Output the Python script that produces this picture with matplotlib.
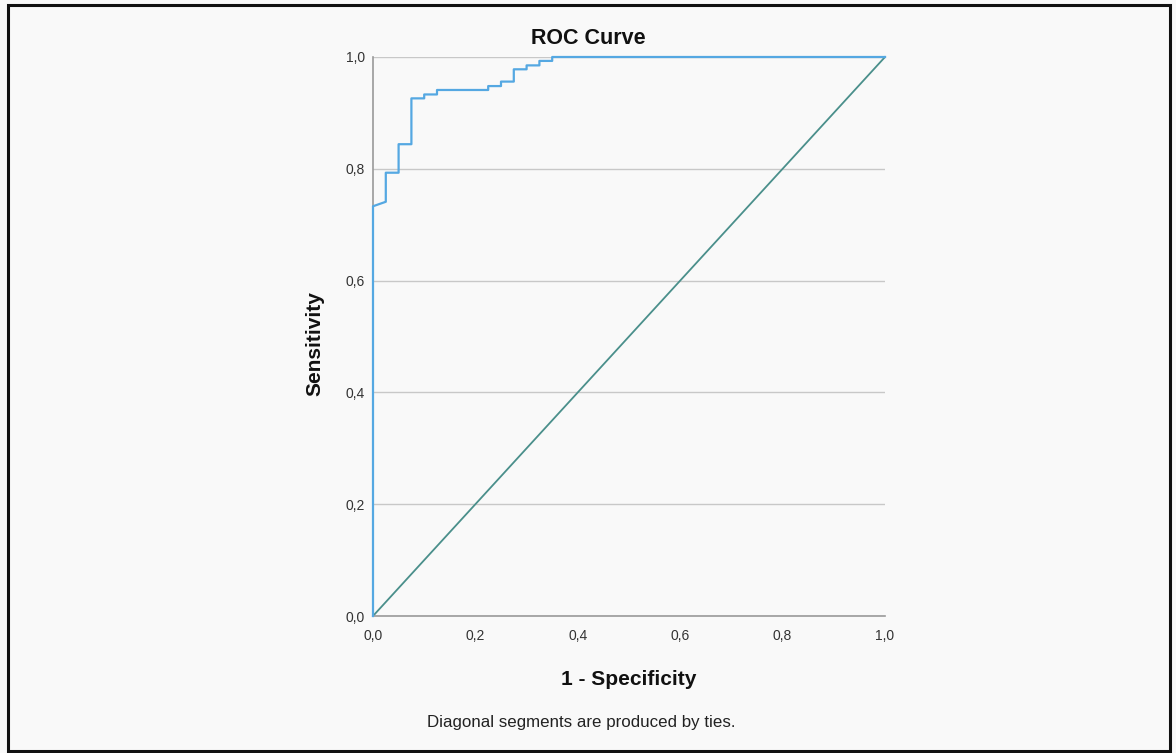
import matplotlib
matplotlib.use("Agg")
import matplotlib.pyplot as plt
from matplotlib.patches import Rectangle
from matplotlib.ticker import FuncFormatter

plt.rcParams['font.family'] = ['Liberation Sans', 'DejaVu Sans']

# ROC curve data (1 - Specificity, Sensitivity)
fpr = [0.0, 0.0, 0.025, 0.025, 0.05, 0.05, 0.075, 0.075, 0.1, 0.1, 0.125, 0.125,
       0.225, 0.225, 0.25, 0.25, 0.275, 0.275, 0.3, 0.3, 0.325, 0.325, 0.35, 0.35, 1.0]
tpr = [0.0, 0.733, 0.741, 0.793, 0.793, 0.844, 0.844, 0.926, 0.926, 0.933, 0.933, 0.941,
       0.941, 0.948, 0.948, 0.956, 0.956, 0.978, 0.978, 0.985, 0.985, 0.993, 0.993, 1.0, 1.0]
ref_x = [0.0, 1.0]
ref_y = [0.0, 1.0]
ticks = [0.0, 0.2, 0.4, 0.6, 0.8, 1.0]

bg = '#f9f9f9'
fig = plt.figure(figsize=(11.76, 7.53), dpi=100, facecolor=bg)
ax = fig.add_axes([373/1176, 1 - 616/753, 512/1176, 559/753], facecolor=bg)

ax.plot(ref_x, ref_y, color='#4a8f8b', lw=1.3, zorder=2, clip_on=False)
ax.plot(fpr, tpr, color='#55a8e2', lw=1.6, zorder=3, clip_on=False)

ax.set_xlim(0, 1)
ax.set_ylim(0, 1)
ax.set_xticks(ticks)
ax.set_yticks(ticks)
fmt = FuncFormatter(lambda v, p: f"{v:.1f}".replace('.', ','))
ax.xaxis.set_major_formatter(fmt)
ax.yaxis.set_major_formatter(fmt)
ax.tick_params(length=0, labelsize=10, colors='#333333')
ax.tick_params(axis='x', pad=9)
ax.tick_params(axis='y', pad=6)
ax.yaxis.grid(True, color='#c8c8c8', lw=1.0)
ax.set_axisbelow(True)
for s in ['top', 'right']:
    ax.spines[s].set_visible(False)
for s in ['left', 'bottom']:
    ax.spines[s].set_color('#9a9a9a')
    ax.spines[s].set_linewidth(1.2)

fig.text(588/1176, 1 - 38/753, 'ROC Curve', ha='center', va='center',
         fontsize=15.5, fontweight='bold', color='#111111')
ax.set_xlabel('1 - Specificity', fontsize=15, fontweight='bold', color='#111111', labelpad=20)
fig.text(315/1176, 1 - 344/753, 'Sensitivity', ha='center', va='center', rotation=90,
         fontsize=15, fontweight='bold', color='#111111')

fig.text(581/1176, 1 - 722/753, 'Diagonal segments are produced by ties.',
         ha='center', va='center', fontsize=12.2, color='#222222')

fig.patches.append(Rectangle((7.5/1176, 1 - 750.5/753), 1162.5/1176, 746/753,
                             transform=fig.transFigure, fill=False,
                             edgecolor='#111111', lw=2.2))

fig.savefig('out.png', dpi=100, facecolor=bg)
